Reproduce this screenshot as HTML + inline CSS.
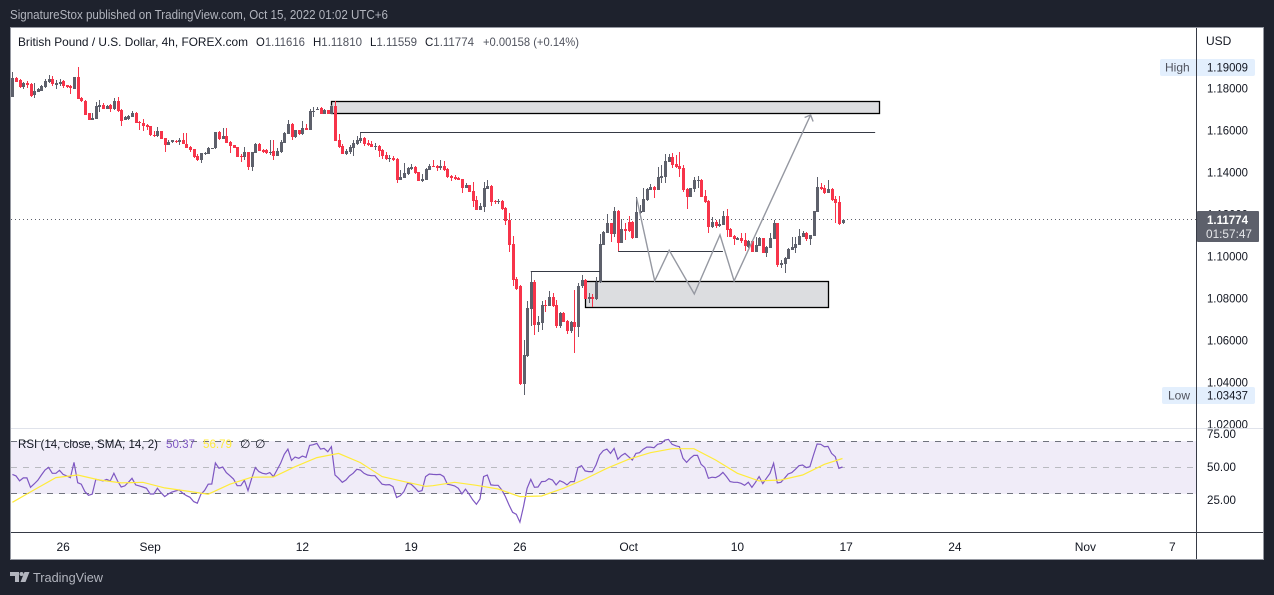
<!DOCTYPE html>
<html lang="en">
<head>
<meta charset="utf-8">
<title>GBP/USD 4h chart</title>
<style>
html,body{margin:0;padding:0;background:#1e222d;width:1274px;height:595px;overflow:hidden}
svg{display:block;font-family:"Liberation Sans","DejaVu Sans",sans-serif}
text{white-space:pre}
</style>
</head>
<body>
<svg id="chart" xmlns="http://www.w3.org/2000/svg" width="1274" height="595" viewBox="0 0 1274 595">
  <rect x="0" y="0" width="1274" height="595" fill="#1e222d"/>
  <text x="10" y="19" font-size="12.5" fill="#b2b5be" textLength="378" lengthAdjust="spacingAndGlyphs">SignatureStox published on TradingView.com, Oct 15, 2022 01:02 UTC+6</text>
  <rect x="10.5" y="27.5" width="1253" height="532" fill="#ffffff" stroke="#9598a1" stroke-width="1"/>
  <defs>
    <clipPath id="price-clip"><rect x="11" y="28" width="1185" height="400"/></clipPath>
    <clipPath id="rsi-clip"><rect x="11" y="429" width="1185" height="103"/></clipPath>
    <clipPath id="price-axis-clip"><rect x="1197" y="46" width="66" height="382"/></clipPath>
  </defs>
  <g id="drawings-under" clip-path="url(#price-clip)"></g>
  <line id="lastLine" x1="11" x2="1196" stroke="#5d606b" stroke-width="1" stroke-dasharray="1 3"/>
  <g id="candles" clip-path="url(#price-clip)"></g>
  <g id="drawings-over" clip-path="url(#price-clip)"></g>

  <rect id="rsiBand" x="11" width="1185" fill="#f0ecf8"/>
  <g id="rsi-levels"></g>
  <g clip-path="url(#rsi-clip)">
    <path id="rsiLine" fill="none" stroke="#7e57c2" stroke-width="1.2"/>
    <path id="smaLine" fill="none" stroke="#ffeb3b" stroke-width="1.2"/>
  </g>

  <line x1="11" x2="1263" y1="428.5" y2="428.5" stroke="#e0e3eb" stroke-width="1"/>
  <line x1="1196.5" x2="1196.5" y1="28" y2="559" stroke="#363a45" stroke-width="1"/>
  <line x1="11" x2="1263" y1="532.5" y2="532.5" stroke="#363a45" stroke-width="1"/>

  <g>
    <text x="18" y="46" font-size="12" fill="#131722" textLength="230" lengthAdjust="spacingAndGlyphs">British Pound / U.S. Dollar, 4h, FOREX.com</text>
    <text x="256" y="46" font-size="12" fill="#131722" textLength="49" lengthAdjust="spacingAndGlyphs">O<tspan fill="#50535e">1.11616</tspan></text>
    <text x="313" y="46" font-size="12" fill="#131722" textLength="49" lengthAdjust="spacingAndGlyphs">H<tspan fill="#50535e">1.11810</tspan></text>
    <text x="370" y="46" font-size="12" fill="#131722" textLength="47" lengthAdjust="spacingAndGlyphs">L<tspan fill="#50535e">1.11559</tspan></text>
    <text x="425" y="46" font-size="12" fill="#131722" textLength="49" lengthAdjust="spacingAndGlyphs">C<tspan fill="#50535e">1.11774</tspan></text>
    <text x="483" y="46" font-size="12" fill="#50535e" textLength="96" lengthAdjust="spacingAndGlyphs">+0.00158 (+0.14%)</text>
  </g>

  <g>
    <text x="18" y="448" font-size="12" fill="#131722" textLength="140" lengthAdjust="spacingAndGlyphs">RSI (14, close, SMA, 14, 2)</text>
    <text x="166" y="448" font-size="12" fill="#7e57c2" textLength="29" lengthAdjust="spacingAndGlyphs">50.37</text>
    <text x="203" y="448" font-size="12" fill="#ffeb3b" textLength="29" lengthAdjust="spacingAndGlyphs">56.79</text>
    <text x="240" y="448" font-size="12" fill="#131722">∅</text>
    <text x="255" y="448" font-size="12" fill="#131722">∅</text>
  </g>

  <text x="1206" y="45" font-size="12" fill="#131722">USD</text>
  <g id="price-ticks" clip-path="url(#price-axis-clip)"></g>
  <g id="rsi-ticks"></g>
  <g id="time-ticks"></g>

  <g>
    <rect x="1160" y="59" width="95" height="17" rx="2" fill="#e3effd"/>
    <text x="1165" y="71.5" font-size="12" fill="#50535e">High</text>
    <line x1="1196.5" x2="1196.5" y1="59" y2="76" stroke="#363a45"/>
    <text x="1207" y="71.5" font-size="12" fill="#131722" textLength="41" lengthAdjust="spacingAndGlyphs">1.19009</text>
  </g>
  <g>
    <rect x="1162" y="387" width="93" height="17" rx="2" fill="#e3effd"/>
    <text x="1168" y="399.5" font-size="12" fill="#50535e">Low</text>
    <line x1="1196.5" x2="1196.5" y1="387" y2="404" stroke="#363a45"/>
    <text x="1207" y="399.5" font-size="12" fill="#131722" textLength="41" lengthAdjust="spacingAndGlyphs">1.03437</text>
  </g>
  <g>
    <rect x="1197" y="211" width="62" height="31" rx="1" fill="#5d606b"/>
    <text x="1207" y="224" font-size="12" font-weight="bold" fill="#ffffff" textLength="41" lengthAdjust="spacingAndGlyphs">1.11774</text>
    <text x="1206" y="238" font-size="12" fill="#e6e7ea" textLength="46" lengthAdjust="spacingAndGlyphs">01:57:47</text>
  </g>

  <g>
    <path fill="#b2b5be" d="M10 572h9v10h-4v-6h-5zM24.5 572h5l-4 10h-5zM21.5 572a2 2 0 1 1 0 4a2 2 0 1 1 0-4z"/>
    <text x="33" y="582" font-size="13" fill="#b2b5be" textLength="70" lengthAdjust="spacingAndGlyphs">TradingView</text>
  </g>
</svg>

<script>
// ---------- price data (one entry per 4h bar) ----------
const opens = [
1.1763,1.1852,1.1841,1.1809,1.1828,1.1825,1.1771,1.1787,1.1792,1.1811,
1.1833,1.1849,1.1819,1.1822,1.1836,1.1817,1.1814,1.1801,1.1855,1.1758,
1.1745,1.1684,1.1653,1.1658,1.1715,1.1722,1.1706,1.1722,1.1703,1.1741,
1.1700,1.1652,1.1655,1.1668,1.1684,1.1642,1.1636,1.1628,1.1625,1.1583,
1.1578,1.1599,1.1565,1.1535,1.1547,1.1553,1.1547,1.1556,1.1540,1.1523,
1.1513,1.1479,1.1462,1.1489,1.1491,1.1517,1.1517,1.1595,1.1562,1.1575,
1.1546,1.1532,1.1523,1.1481,1.1476,1.1500,1.1429,1.1496,1.1539,1.1510,
1.1509,1.1494,1.1504,1.1483,1.1499,1.1542,1.1588,1.1633,1.1571,1.1604,
1.1585,1.1612,1.1606,1.1690,1.1700,1.1710,1.1682,1.1698,1.1682,1.1719,
1.1557,1.1528,1.1491,1.1498,1.1521,1.1538,1.1551,1.1567,1.1543,1.1538,
1.1522,1.1528,1.1509,1.1484,1.1468,1.1471,1.1467,1.1367,1.1376,1.1395,
1.1419,1.1428,1.1405,1.1363,1.1367,1.1414,1.1433,1.1433,1.1424,1.1433,
1.1419,1.1386,1.1379,1.1378,1.1371,1.1329,1.1343,1.1314,1.1270,1.1224,
1.1240,1.1324,1.1338,1.1267,1.1262,1.1267,1.1233,1.1178,1.1062,1.0895,
1.0862,1.0397,1.0528,1.0752,1.0881,1.0676,1.0686,1.0771,1.0767,1.0809,
1.0771,1.0671,1.0733,1.0695,1.0649,1.0689,1.0668,1.0860,1.0890,1.0801,
1.0811,1.0798,1.0879,1.1059,1.1115,1.1160,1.1108,1.1221,1.1068,1.1135,
1.1166,1.1168,1.1092,1.1208,1.1214,1.1271,1.1319,1.1335,1.1319,1.1378,
1.1382,1.1452,1.1474,1.1443,1.1435,1.1424,1.1324,1.1286,1.1324,1.1361,
1.1366,1.1290,1.1266,1.1141,1.1166,1.1147,1.1154,1.1195,1.1133,1.1098,
1.1081,1.1090,1.1081,1.1049,1.1076,1.1024,1.1052,1.1090,1.1019,1.1042,
1.1085,1.1161,1.0962,1.0966,1.0990,1.1033,1.1042,1.1057,1.1095,1.1114,
1.1085,1.1100,1.1214,1.1333,1.1328,1.1304,1.1323,1.1276,1.1262,1.1162];
const highs = [
1.1881,1.1855,1.1846,1.1835,1.1838,1.1830,1.1827,1.1804,1.1818,1.1846,
1.1866,1.1862,1.1843,1.1846,1.1843,1.1820,1.1817,1.1859,1.1904,1.1761,
1.1747,1.1688,1.1687,1.1739,1.1747,1.1731,1.1726,1.1728,1.1758,1.1760,
1.1703,1.1671,1.1676,1.1695,1.1692,1.1648,1.1656,1.1633,1.1626,1.1601,
1.1618,1.1602,1.1568,1.1556,1.1557,1.1559,1.1566,1.1589,1.1589,1.1529,
1.1515,1.1490,1.1496,1.1499,1.1523,1.1521,1.1595,1.1601,1.1612,1.1612,
1.1551,1.1535,1.1525,1.1489,1.1525,1.1502,1.1502,1.1541,1.1541,1.1516,
1.1513,1.1559,1.1556,1.1518,1.1556,1.1596,1.1652,1.1636,1.1606,1.1607,
1.1647,1.1633,1.1707,1.1712,1.1712,1.1714,1.1703,1.1701,1.1722,1.1743,
1.1586,1.1538,1.1513,1.1533,1.1557,1.1576,1.1592,1.1573,1.1557,1.1552,
1.1544,1.1531,1.1513,1.1500,1.1484,1.1481,1.1470,1.1414,1.1446,1.1430,
1.1443,1.1432,1.1406,1.1395,1.1425,1.1443,1.1462,1.1437,1.1462,1.1457,
1.1422,1.1390,1.1390,1.1382,1.1373,1.1351,1.1344,1.1357,1.1290,1.1255,
1.1357,1.1367,1.1341,1.1271,1.1276,1.1271,1.1236,1.1208,1.1100,1.0905,
1.0865,1.0605,1.0790,1.0930,1.0890,1.0719,1.0790,1.0795,1.0838,1.0828,
1.0795,1.0736,1.0736,1.0700,1.0695,1.0843,1.0875,1.0914,1.0893,1.0827,
1.0824,1.0906,1.1109,1.1122,1.1204,1.1163,1.1240,1.1224,1.1179,1.1163,
1.1195,1.1171,1.1284,1.1247,1.1327,1.1327,1.1346,1.1338,1.1430,1.1438,
1.1489,1.1489,1.1494,1.1486,1.1498,1.1438,1.1327,1.1330,1.1382,1.1385,
1.1370,1.1319,1.1270,1.1192,1.1176,1.1176,1.1220,1.1228,1.1136,1.1104,
1.1093,1.1112,1.1112,1.1081,1.1079,1.1097,1.1093,1.1092,1.1050,1.1112,
1.1176,1.1164,1.0985,1.0998,1.1041,1.1097,1.1097,1.1133,1.1123,1.1117,
1.1107,1.1220,1.1381,1.1354,1.1343,1.1366,1.1327,1.1290,1.1290,1.1181];
const lows = [
1.1763,1.1833,1.1807,1.1802,1.1807,1.1761,1.1757,1.1784,1.1790,1.1807,
1.1830,1.1814,1.1798,1.1814,1.1807,1.1807,1.1777,1.1800,1.1750,1.1739,
1.1676,1.1652,1.1652,1.1656,1.1692,1.1703,1.1704,1.1692,1.1701,1.1692,
1.1623,1.1650,1.1652,1.1666,1.1638,1.1604,1.1601,1.1607,1.1578,1.1570,
1.1572,1.1561,1.1501,1.1534,1.1544,1.1541,1.1532,1.1537,1.1518,1.1501,
1.1470,1.1458,1.1448,1.1488,1.1489,1.1515,1.1515,1.1559,1.1561,1.1542,
1.1493,1.1518,1.1476,1.1453,1.1462,1.1413,1.1408,1.1494,1.1503,1.1493,
1.1491,1.1485,1.1462,1.1481,1.1497,1.1541,1.1586,1.1556,1.1569,1.1583,
1.1583,1.1604,1.1604,1.1668,1.1698,1.1680,1.1680,1.1680,1.1680,1.1552,
1.1521,1.1489,1.1486,1.1491,1.1481,1.1533,1.1541,1.1530,1.1530,1.1522,
1.1509,1.1478,1.1467,1.1462,1.1454,1.1457,1.1354,1.1365,1.1374,1.1390,
1.1414,1.1397,1.1360,1.1359,1.1365,1.1413,1.1427,1.1411,1.1414,1.1409,
1.1378,1.1362,1.1367,1.1365,1.1306,1.1327,1.1308,1.1240,1.1222,1.1222,
1.1214,1.1322,1.1243,1.1251,1.1252,1.1224,1.1152,1.1025,1.0862,1.0843,
1.0390,1.0343,1.0525,1.0671,1.0628,1.0643,1.0652,1.0740,1.0765,1.0763,
1.0662,1.0662,1.0689,1.0633,1.0636,1.0541,1.0621,1.0850,1.0798,1.0782,
1.0763,1.0796,1.0878,1.1057,1.1114,1.1073,1.1097,1.1027,1.1066,1.1081,
1.1120,1.1086,1.1090,1.1205,1.1212,1.1269,1.1317,1.1282,1.1317,1.1354,
1.1354,1.1451,1.1422,1.1425,1.1382,1.1311,1.1228,1.1284,1.1308,1.1330,
1.1284,1.1255,1.1115,1.1139,1.1136,1.1141,1.1152,1.1097,1.1093,1.1057,
1.1079,1.1065,1.1028,1.1041,1.1022,1.1022,1.1050,1.1017,1.1001,1.1041,
1.1084,1.0954,1.0946,1.0925,1.0989,1.1031,1.1017,1.1055,1.1093,1.1077,
1.1057,1.1098,1.1212,1.1319,1.1300,1.1303,1.1266,1.1163,1.1152,1.1156];
const closes = [
1.1852,1.1835,1.1811,1.1828,1.1819,1.1768,1.1790,1.1801,1.1814,1.1840,
1.1849,1.1822,1.1827,1.1833,1.1814,1.1809,1.1803,1.1855,1.1752,1.1742,
1.1677,1.1653,1.1663,1.1718,1.1722,1.1704,1.1718,1.1706,1.1741,1.1695,
1.1648,1.1668,1.1672,1.1687,1.1639,1.1636,1.1625,1.1618,1.1580,1.1575,
1.1599,1.1562,1.1535,1.1548,1.1555,1.1548,1.1556,1.1537,1.1520,1.1510,
1.1478,1.1462,1.1494,1.1496,1.1518,1.1520,1.1593,1.1562,1.1575,1.1543,
1.1529,1.1519,1.1477,1.1476,1.1499,1.1429,1.1499,1.1539,1.1505,1.1502,
1.1493,1.1501,1.1483,1.1504,1.1547,1.1591,1.1633,1.1573,1.1603,1.1585,
1.1612,1.1607,1.1693,1.1696,1.1707,1.1682,1.1699,1.1682,1.1718,1.1554,
1.1525,1.1491,1.1505,1.1525,1.1544,1.1557,1.1567,1.1538,1.1532,1.1524,
1.1528,1.1505,1.1481,1.1467,1.1473,1.1462,1.1367,1.1379,1.1398,1.1425,
1.1428,1.1398,1.1362,1.1371,1.1419,1.1433,1.1429,1.1425,1.1433,1.1414,
1.1381,1.1378,1.1373,1.1367,1.1329,1.1343,1.1310,1.1267,1.1224,1.1243,
1.1329,1.1338,1.1262,1.1262,1.1267,1.1229,1.1173,1.1057,1.0890,1.0848,
1.0394,1.0532,1.0757,1.0881,1.0676,1.0690,1.0771,1.0767,1.0809,1.0767,
1.0671,1.0733,1.0691,1.0648,1.0689,1.0668,1.0860,1.0890,1.0800,1.0811,
1.0798,1.0882,1.1062,1.1119,1.1160,1.1108,1.1221,1.1068,1.1135,1.1125,
1.1124,1.1089,1.1214,1.1217,1.1274,1.1323,1.1333,1.1319,1.1382,1.1385,
1.1457,1.1474,1.1438,1.1427,1.1419,1.1319,1.1286,1.1327,1.1366,1.1366,
1.1286,1.1262,1.1141,1.1166,1.1147,1.1157,1.1195,1.1130,1.1095,1.1085,
1.1090,1.1076,1.1052,1.1076,1.1024,1.1057,1.1090,1.1019,1.1047,1.1090,
1.1161,1.0962,1.0971,1.0995,1.1038,1.1047,1.1062,1.1100,1.1114,1.1085,
1.1104,1.1219,1.1333,1.1323,1.1304,1.1323,1.1271,1.1255,1.1157,1.1177];

// ---------- RSI data ----------
const rsiValues = [
44.8,43.6,39.8,42.1,42.1,35.0,37.5,40.3,44.3,48.1,
50.1,45.6,45.6,47.9,44.8,43.6,42.3,53.9,38.5,37.3,
31.7,28.9,29.7,41.0,40.5,39.8,41.0,39.8,45.6,39.8,
35.2,36.0,38.8,41.8,36.8,36.0,35.2,34.2,29.9,29.9,
34.2,30.9,27.9,29.9,31.4,32.2,33.0,30.4,28.7,27.4,
24.1,22.9,29.7,32.5,37.3,37.5,53.4,49.4,50.4,46.1,
43.8,41.3,36.2,36.2,40.3,32.5,41.8,49.9,46.9,45.6,
45.1,46.1,43.1,48.1,53.2,60.0,64.0,55.4,58.0,57.0,
58.7,57.7,66.8,67.3,68.3,64.0,64.5,62.0,65.8,44.3,
41.8,38.8,40.5,43.6,45.6,48.6,48.1,45.6,44.3,43.8,
43.8,40.5,37.3,36.8,37.0,35.5,27.2,28.7,31.7,38.0,
37.3,34.7,31.7,32.5,43.1,45.1,
44.8,44.6,44.8,43.1,37.3,36.8,36.0,34.2,29.9,33.5,
29.7,25.4,22.1,26.1,43.1,44.3,36.8,36.5,36.5,33.0,
27.9,21.6,16.0,14.5,8.5,20.3,34.2,41.0,35.0,35.2,
39.3,39.5,41.5,40.5,36.8,40.0,38.8,36.8,39.3,39.3,
49.9,51.4,47.4,46.9,46.9,51.9,59.5,62.8,64.0,60.7,
64.5,56.2,59.0,60.7,58.2,55.7,60.7,61.2,63.8,65.5,
65.5,65.0,67.6,68.3,70.8,71.3,67.6,66.5,65.8,57.0,
53.9,57.0,59.2,59.2,52.4,49.9,41.8,42.6,42.3,43.8,
46.3,43.1,39.3,38.8,38.8,38.0,36.5,38.8,35.0,38.8,
43.1,37.8,41.8,45.6,53.2,38.3,38.8,41.8,45.1,46.1,
48.6,51.4,51.9,49.9,50.6,59.5,67.8,67.6,65.8,66.0,
60.7,58.2,49.4,50.4];
const smaBars = [0,6,12,18,24,30,36,42,48,54,60,66,72,78,84,90,96,102,108,114,116,122,128,134,140,146,152,158,164,170,176,182,188,194,200,206,212,218,224,229];
const smaValues = [23.6,33.0,42.3,44.3,40.5,38.3,38.8,34.5,32.2,29.7,37.3,42.6,42.8,50.6,57.5,60.7,53.7,43.1,39.3,35.7,36.2,38.8,36.5,33.7,27.9,28.4,34.2,41.3,49.4,56.2,61.2,64.3,64.3,55.7,45.6,39.8,40.5,44.3,52.4,56.8];
const rsiLevels = [70,50,30];

// ---------- axis labels ----------
const priceTicks = [1.18,1.16,1.14,1.12,1.10,1.08,1.06,1.04,1.02];
const rsiTicks = [75,50,25];
const timeLabels = ['26','Sep','12','19','26','Oct','10','17','24','Nov','7'];
const timeBars = [14,38,80,110,140,170,200,230,260,296,320];
const timeMajor = ['Sep','Oct','Nov'];
const lastPrice = 1.1177;

// ---------- hand-drawn annotations, in bar / price terms ----------
const zoneBarStarts = [87.9,158.1];
const zoneBarEnds = [239.1,225.2];
const zoneTops = [1.1741,1.0884];
const zoneBottoms = [1.1684,1.0760];
const levelBarStarts = [95.9,143,167.1];
const levelBarEnds = [238,162.1,196];
const levelPrices = [1.1593,1.0931,1.1027];
const pathBars = [172.2,177.2,181.2,188.1,195.2,199.1,220.2];
const pathPrices = [1.1281,1.0886,1.1032,1.0824,1.1105,1.0886,1.1676];

// ---------- axis functions ----------
const NS = 'http://www.w3.org/2000/svg';
function xBar(i){ return 12.4 + 3.625 * i; }
function yPrice(p){ return 89 + (1.18 - p) * 2100; }
function yRsi(v){ return 467.5 - (v - 50) * 1.3175; }
function crisp(v){ return Math.floor(v) + 0.5; }
function make(tag, attrs, parent){
  const el = document.createElementNS(NS, tag);
  for (const k in attrs) el.setAttribute(k, attrs[k]);
  parent.appendChild(el);
  return el;
}

// last-price line
const lastLine = document.getElementById('lastLine');
lastLine.setAttribute('y1', crisp(yPrice(lastPrice)));
lastLine.setAttribute('y2', crisp(yPrice(lastPrice)));

// zones
const under = document.getElementById('drawings-under');
zoneTops.forEach(function(top, i){
  const zx = crisp(xBar(zoneBarStarts[i]));
  const zy = crisp(yPrice(top));
  const zone = make('rect', {x: zx, y: zy, width: crisp(xBar(zoneBarEnds[i])) - zx, height: crisp(yPrice(zoneBottoms[i])) - zy, fill: '#dcdde0', stroke: '#000000', 'stroke-width': 1.3}, under);
  
  
});

// candles
const candleGroup = document.getElementById('candles');
closes.forEach(function(c, i){
  const o = opens[i];
  const colour = c >= o ? '#5d606b' : '#f7344a';
  const x = Math.round(xBar(i));
  const wick = make('rect', {x: x, y: Math.round(yPrice(highs[i])), width: 1, height: Math.max(1, Math.round(yPrice(lows[i])) - Math.round(yPrice(highs[i]))), fill: colour}, candleGroup);
  
  
  const top = Math.round(yPrice(Math.max(o, c)));
  const bottom = Math.round(yPrice(Math.min(o, c)));
  const body = make('rect', {x: x - 1, y: top, width: 3, height: Math.max(1, bottom - top), fill: colour}, candleGroup);
  
  
});

// levels + projected path
const over = document.getElementById('drawings-over');
levelPrices.forEach(function(p, i){
  const lv = make('line', {x1: xBar(levelBarStarts[i]), x2: xBar(levelBarEnds[i]), y1: crisp(yPrice(p)), y2: crisp(yPrice(p)), stroke: '#363a45', 'stroke-width': 1}, over);
  
  
});
const pathPts = pathBars.map(function(b, i){ return xBar(b).toFixed(1) + ',' + yPrice(pathPrices[i]).toFixed(1); });
const projected = make('polyline', {points: pathPts.join(' '), fill: 'none', stroke: '#9598a1', 'stroke-width': 1.4}, over);


const tipX = xBar(pathBars[pathBars.length - 1]);
const tipY = yPrice(pathPrices[pathPrices.length - 1]);
const head = make('polyline', {points: (tipX - 6) + ',' + (tipY + 2.5) + ' ' + tipX + ',' + tipY + ' ' + (tipX + 2.5) + ',' + (tipY + 6.5), fill: 'none', stroke: '#9598a1', 'stroke-width': 1.4}, over);



// RSI pane
const band = document.getElementById('rsiBand');
band.setAttribute('y', yRsi(rsiLevels[0]));
band.setAttribute('height', yRsi(rsiLevels[2]) - yRsi(rsiLevels[0]));
const levelGroup = document.getElementById('rsi-levels');
rsiLevels.forEach(function(v){
  const ln = make('line', {x1: 11, x2: 1196, y1: crisp(yRsi(v)), y2: crisp(yRsi(v)), stroke: v === 50 ? '#b9bac0' : '#6f727d', 'stroke-width': 1, 'stroke-dasharray': '6 6'}, levelGroup);
  
  
});
document.getElementById('rsiLine').setAttribute('d', rsiValues.map(function(v, i){
  return (i ? 'L' : 'M') + xBar(i).toFixed(1) + ' ' + yRsi(v).toFixed(1);
}).join(''));
document.getElementById('smaLine').setAttribute('d', smaValues.map(function(v, i){
  return (i ? 'L' : 'M') + xBar(smaBars[i]).toFixed(1) + ' ' + yRsi(v).toFixed(1);
}).join(''));

// axis labels
const priceTickGroup = document.getElementById('price-ticks');
priceTicks.forEach(function(p){
  const t = make('text', {x: 1207, y: yPrice(p) + 3.5, 'font-size': 12, fill: '#131722', textLength: 41, lengthAdjust: 'spacingAndGlyphs'}, priceTickGroup);
  
  
  t.textContent = p.toFixed(5);
});
const rsiTickGroup = document.getElementById('rsi-ticks');
rsiTicks.forEach(function(v){
  const t = make('text', {x: 1207, y: yRsi(v) + 3.5, 'font-size': 12, fill: '#131722', textLength: 29, lengthAdjust: 'spacingAndGlyphs'}, rsiTickGroup);
  
  
  t.textContent = v.toFixed(2);
});
const timeTickGroup = document.getElementById('time-ticks');
timeLabels.forEach(function(label, i){
  const t = make('text', {x: xBar(timeBars[i]), y: 551, 'font-size': 12, 'text-anchor': 'middle', fill: '#131722', 'font-weight': timeMajor.indexOf(label) >= 0 && label !== 'Nov' ? '500' : 'normal'}, timeTickGroup);
  
  
  t.textContent = label;
});
</script>
</body>
</html>
